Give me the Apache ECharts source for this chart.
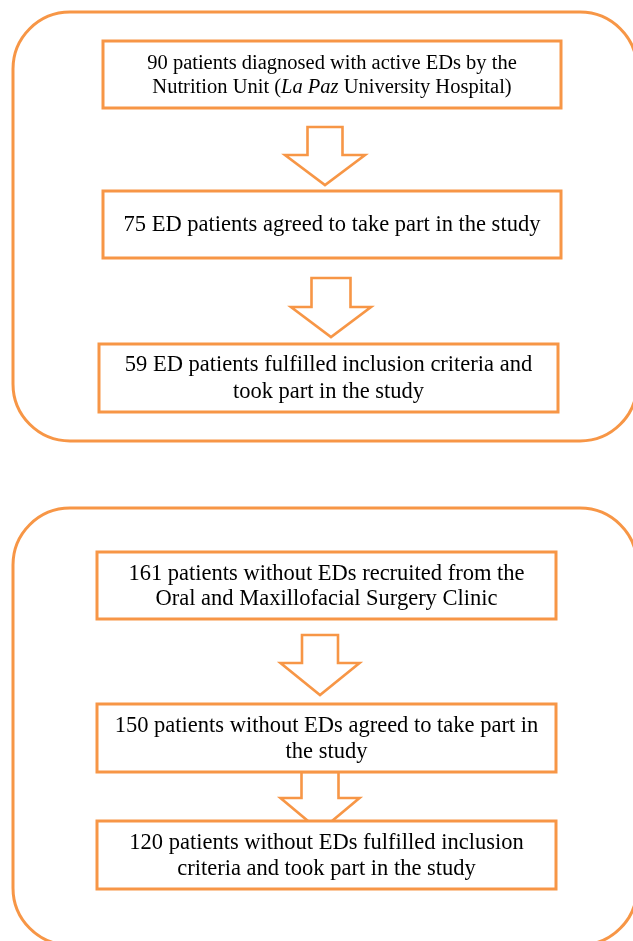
<!DOCTYPE html>
<html>
<head>
<meta charset="utf-8">
<script src="https://cdn.jsdelivr.net/npm/echarts@6/dist/echarts.min.js"></script>
<style>
  html, body { margin: 0; padding: 0; background: #fff; }
  #chart { width: 633px; height: 941px; }
</style>
</head>
<body>
<div id="chart"></div>
<script>
// patient counts at each step of recruitment
const edCounts = [90, 75, 59];
const controlCounts = [161, 150, 120];

// text after the count, '\n' where the original box wraps
const edPhrases = [
  'patients diagnosed with active EDs by the\nNutrition Unit ({i|La Paz} University Hospital)',
  'ED patients agreed to take part in the study',
  'ED patients fulfilled inclusion criteria and\ntook part in the study'
];
const controlPhrases = [
  'patients without EDs recruited from the\nOral and Maxillofacial Surgery Clinic',
  'patients without EDs agreed to take part in\nthe study',
  'patients without EDs fulfilled inclusion\ncriteria and took part in the study'
];

// layout, in page units (x: 0..633, y: 0..941)
const panelRects = [[13, 12, 637, 441], [13, 508, 637, 945]];
const boxRects = [
  [103, 41, 561, 108], [103, 191, 561, 258], [99, 344, 558, 412],
  [97, 552, 556, 619], [97, 704, 556, 772], [97, 821, 556, 889]
];
const boxFontSizes = [20.5, 22.5, 22.5, 22.5, 22.5, 22.5];
const boxLineHeights = [24.5, 26, 27, 25.5, 26, 26];
// cx, top, head start, tip, shaft half width, head half width
const arrowShapes = [
  [325, 127, 155, 185, 17.5, 40],
  [331, 278, 307, 337, 19.5, 40],
  [320, 635, 663, 695, 18, 39.5],
  [320, 772, 798, 831, 18.5, 39.5]
];

const ORANGE = '#F79646';
const labels = edCounts.map((n, i) => n + ' ' + edPhrases[i])
  .concat(controlCounts.map((n, i) => n + ' ' + controlPhrases[i]));

const chart = echarts.init(document.getElementById('chart'));

function renderPanel(params, api) {
  const a = api.coord([api.value(0), api.value(1)]);
  const b = api.coord([api.value(2), api.value(3)]);
  return {
    type: 'rect',
    shape: { x: a[0], y: a[1], width: b[0] - a[0], height: b[1] - a[1], r: 57 },
    style: { fill: '#fff', stroke: ORANGE, lineWidth: 3 }
  };
}

function renderArrow(params, api) {
  const cx = api.value(0), top = api.value(1), head = api.value(2), tip = api.value(3);
  const sh = api.value(4), hh = api.value(5);
  const pts = [
    [cx - sh, top], [cx + sh, top], [cx + sh, head], [cx + hh, head],
    [cx, tip], [cx - hh, head], [cx - sh, head]
  ].map(p => api.coord(p));
  return {
    type: 'polygon',
    shape: { points: pts },
    style: { fill: '#fff', stroke: ORANGE, lineWidth: 2.6, lineJoin: 'miter' }
  };
}

function renderBox(params, api) {
  const a = api.coord([api.value(0), api.value(1)]);
  const b = api.coord([api.value(2), api.value(3)]);
  const fs = boxFontSizes[params.dataIndex];
  const lh = boxLineHeights[params.dataIndex];
  return {
    type: 'group',
    children: [
      {
        type: 'rect',
        shape: { x: a[0], y: a[1], width: b[0] - a[0], height: b[1] - a[1] },
        style: { fill: '#fff', stroke: ORANGE, lineWidth: 3 }
      },
      {
        type: 'text',
        x: (a[0] + b[0]) / 2,
        y: (a[1] + b[1]) / 2 + 1,
        style: {
          text: labels[params.dataIndex],
          fill: '#000',
          fontFamily: 'Liberation Serif',
          fontSize: fs,
          lineHeight: lh,
          align: 'center',
          verticalAlign: 'middle',
          rich: {
            i: { fontStyle: 'italic', fontFamily: 'Liberation Serif', fontSize: fs, lineHeight: lh, fill: '#000' }
          }
        }
      }
    ]
  };
}

chart.setOption({
  animation: false,
  grid: { left: 0, right: 0, top: 0, bottom: 0 },
  xAxis: { type: 'value', min: 0, max: 633, show: false },
  yAxis: { type: 'value', min: 0, max: 941, inverse: true, show: false },
  series: [
    { type: 'custom', z: 1, clip: false, renderItem: renderPanel, data: panelRects, silent: true },
    { type: 'custom', z: 2, clip: false, renderItem: renderArrow, data: arrowShapes, silent: true },
    { type: 'custom', z: 3, clip: false, renderItem: renderBox, data: boxRects, silent: true }
  ]
});
</script>
</body>
</html>
